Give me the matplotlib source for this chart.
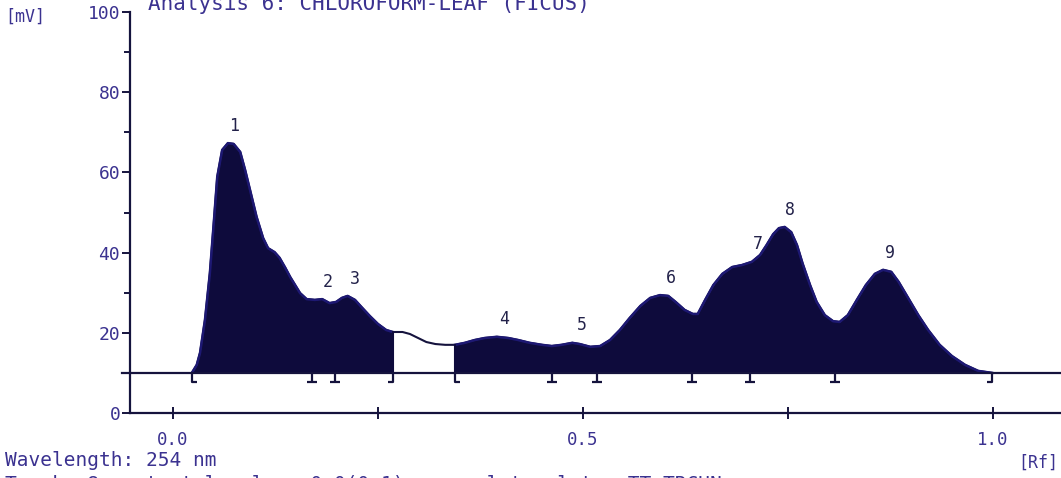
import numpy as np
import matplotlib
matplotlib.use("Agg")
import matplotlib.pyplot as plt
from matplotlib.path import Path

# Densitogram trace: Rf position vs detector signal (mV)
rf = [0.023, 0.029, 0.033, 0.039, 0.045, 0.050, 0.054, 0.060, 0.067, 0.074,
      0.082, 0.088, 0.094, 0.102, 0.110, 0.116, 0.124, 0.130, 0.137, 0.143,
      0.149, 0.155, 0.163, 0.173, 0.182, 0.191, 0.199, 0.206, 0.213, 0.222,
      0.230, 0.240, 0.250, 0.260, 0.268, 0.280, 0.289, 0.299, 0.309, 0.320,
      0.332, 0.344, 0.356, 0.368, 0.380, 0.395, 0.409, 0.421, 0.435, 0.450,
      0.462, 0.474, 0.487, 0.496, 0.509, 0.521, 0.533, 0.545, 0.557, 0.570,
      0.582, 0.594, 0.604, 0.613, 0.624, 0.634, 0.640, 0.649, 0.659, 0.670,
      0.682, 0.694, 0.706, 0.716, 0.724, 0.732, 0.739, 0.746, 0.754, 0.761,
      0.768, 0.777, 0.785, 0.795, 0.805, 0.813, 0.823, 0.834, 0.845, 0.856,
      0.866, 0.876, 0.885, 0.896, 0.909, 0.921, 0.935, 0.950, 0.966, 0.982,
      0.999]
mv = [10.0, 12.0, 15.0, 23.2, 34.9, 48.1, 58.9, 65.6, 67.3, 67.1,
      65.1, 60.6, 55.6, 48.9, 43.6, 41.1, 40.1, 38.7, 36.2, 33.9,
      31.9, 29.9, 28.4, 28.2, 28.4, 27.4, 27.7, 28.7, 29.2, 28.2,
      26.4, 24.2, 22.2, 20.7, 20.2, 20.2, 19.7, 18.7, 17.7, 17.2,
      17.0, 17.0, 17.5, 18.2, 18.7, 19.0, 18.7, 18.2, 17.5, 17.0,
      16.7, 17.0, 17.5, 17.2, 16.5, 16.7, 18.2, 20.7, 23.7, 26.7,
      28.7, 29.4, 29.2, 27.7, 25.7, 24.7, 24.7, 28.2, 31.9, 34.7,
      36.4, 36.9, 37.7, 39.4, 41.9, 44.6, 46.1, 46.4, 45.1, 41.9,
      37.2, 31.9, 27.7, 24.4, 22.9, 22.7, 24.4, 28.2, 31.9, 34.7,
      35.7, 35.2, 32.7, 28.9, 24.4, 20.7, 17.0, 14.2, 12.0, 10.5,
      10.0]

baseline_mv = 10.0

# Integrated regions (start Rf, end Rf)
segments = [(0.023, 0.268), (0.344, 0.999)]
seg_start = [0.023, 0.344]
seg_split = [0.170, 0.198, 0.462, 0.517, 0.633, 0.704, 0.807]
seg_end = [0.268, 0.999]

# Peak numbering at apex positions
peak_ids = ["1", "2", "3", "4", "5", "6", "7", "8", "9"]
peak_rf = [0.068, 0.182, 0.215, 0.397, 0.492, 0.600, 0.706, 0.746, 0.868]
peak_mv = [67.3, 28.4, 29.2, 19.0, 17.5, 29.4, 37.7, 46.4, 35.7]

x_major = [0.0, 0.5, 1.0]
x_major_labels = ["0.0", "0.5", "1.0"]
x_minor = [0.25, 0.75]
y_major = [0, 20, 40, 60, 80, 100]
y_minor = [10, 30, 50, 70, 90]

title = "Analysis 6: CHLOROFORM-LEAF (FICUS)"
info_line1 = "Wavelength: 254 nm"
info_line2 = "Track: 8   start level:   0.0(0.1)   complete plate: TT-TRCHN"

TEXT = "#3b3290"
INK = "#15133d"
FILL = "#0e0b3c"

W, H = 1061, 478
fig = plt.figure(figsize=(W / 100, H / 100), dpi=100)
fig.patch.set_facecolor("white")
ax = fig.add_axes([130 / W, 1 - 413 / H, 1 - 130 / W, (413 - 12) / H])
ax.set_xlim(-0.0524, 1.083)
ax.set_ylim(0, 100)

rf_a = np.array(rf)
mv_a = np.array(mv)

# baseline across the whole plate
ax.plot([-0.062, 1.083], [baseline_mv, baseline_mv], color=INK, lw=1.6,
        clip_on=False, zorder=3)

# integrated areas
for a, b in segments:
    m = (rf_a >= a - 1e-9) & (rf_a <= b + 1e-9)
    ax.fill_between(rf_a[m], baseline_mv, mv_a[m], color=FILL, lw=0,
                    zorder=2)
    ax.plot(rf_a[m], mv_a[m], color="#1d1873", lw=1.8, zorder=2.5)
    ax.plot([a, a], [baseline_mv, mv_a[m][0]], color=FILL, lw=1.5, zorder=2.5)
    ax.plot([b, b], [baseline_mv, mv_a[m][-1]], color=FILL, lw=1.5, zorder=2.5)

# full trace
ax.plot(rf_a, mv_a, color=INK, lw=1.5, zorder=2.4)

# region markers below the baseline
start_mk = Path([(0, 0), (0, -1), (0.5, -1)])
split_mk = Path([(0, 0), (0, -1), (-0.5, -1), (0.5, -1)],
                [Path.MOVETO, Path.LINETO, Path.MOVETO, Path.LINETO])
end_mk = Path([(0, 0), (0, -1), (-0.5, -1)])
for xs, mk in ((seg_start, start_mk), (seg_split, split_mk), (seg_end, end_mk)):
    ax.plot(xs, [baseline_mv] * len(xs), linestyle="none", marker=mk,
            markersize=13, markerfacecolor="none", markeredgecolor=INK,
            markeredgewidth=1.6, zorder=4)

# peak numbers
for pid, px, py in zip(peak_ids, peak_rf, peak_mv):
    ax.annotate(pid, (px, py), xytext=(4, 6), textcoords="offset points",
                ha="center", va="bottom", fontsize=12,
                family="DejaVu Sans Mono", color="#23224a", zorder=5)

# axes styling
for side in ("top", "right"):
    ax.spines[side].set_visible(False)
for side in ("left", "bottom"):
    ax.spines[side].set_color(INK)
    ax.spines[side].set_linewidth(1.6)

ax.set_yticks(y_major)
ax.set_yticks(y_minor, minor=True)
ax.set_yticklabels([str(v) for v in y_major], family="DejaVu Sans Mono",
                   fontsize=13, color=TEXT)
ax.tick_params(axis="y", which="major", direction="out", length=5.5,
               width=1.4, color=INK, pad=1.5)
ax.tick_params(axis="y", which="minor", direction="out", length=4.5,
               width=1.4, color=INK)

ax.set_xticks(x_major)
ax.set_xticks(x_minor, minor=True)
ax.set_xticklabels(x_major_labels, family="DejaVu Sans Mono", fontsize=12.5,
                   color=TEXT)
ax.tick_params(axis="x", which="both", direction="inout", length=8,
               width=1.4, color=INK, pad=9)

# header and footer texts
fig.text(148 / W, 1 - 10 / H, title, family="DejaVu Sans Mono", fontsize=15,
         color=TEXT, va="baseline", ha="left")
fig.text(5 / W, 1 - 17 / H, "[mV]", family="DejaVu Sans Mono", fontsize=12,
         color=TEXT, va="center", ha="left")
fig.text(5 / W, 1 - 461 / H, info_line1, family="DejaVu Sans Mono",
         fontsize=14, color=TEXT, va="center", ha="left")
fig.text(1058 / W, 1 - 463 / H, "[Rf]", family="DejaVu Sans Mono",
         fontsize=12, color=TEXT, va="center", ha="right")
fig.text(5 / W, 1 - 484 / H, info_line2, family="DejaVu Sans Mono",
         fontsize=14, color=TEXT, va="center", ha="left")

fig.savefig("out.png", dpi=100, facecolor="white")
